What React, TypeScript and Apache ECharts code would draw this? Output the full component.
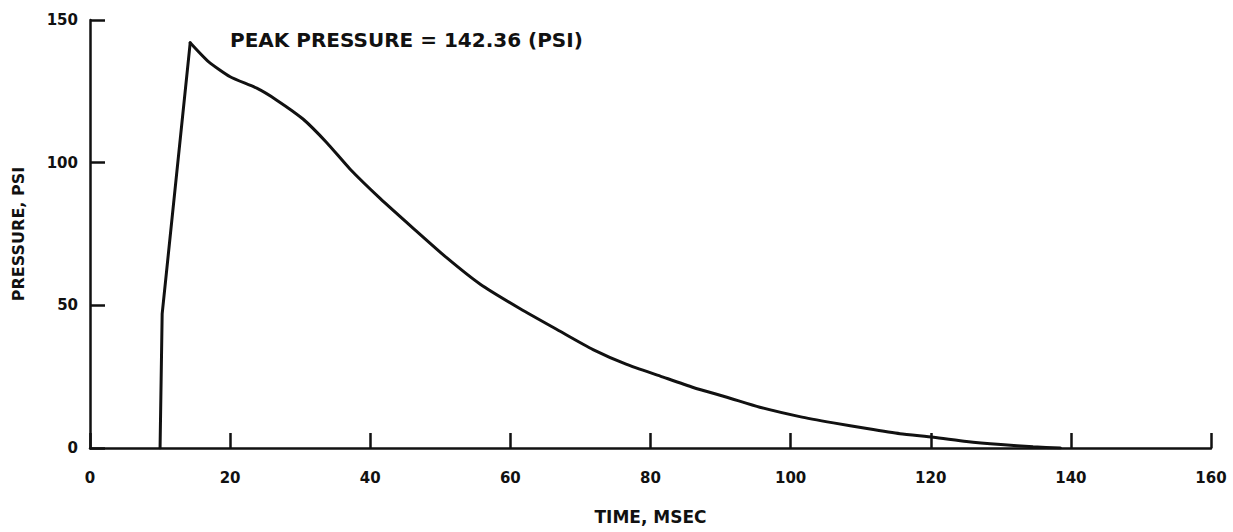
import React, { useEffect, useRef } from "react";
import * as echarts from "echarts";

const timeMs = [10.0, 10.3, 14.3, 16.9, 20.0, 23.8, 26.6, 30.4, 33.8, 37.1, 41.4, 46.1, 50.9, 55.7, 61.4, 67.1, 71.8, 76.6, 81.4, 86.1, 90.9, 95.6, 101.3, 106.1, 110.9, 115.6, 120.4, 125.1, 130.0, 134.6, 138.5];
const pressurePsi = [0, 47, 142, 135.4, 130.1, 126.1, 122.0, 115.3, 107.0, 97.8, 87.5, 77.1, 66.7, 57.4, 48.8, 40.9, 34.5, 29.3, 25.2, 21.2, 17.8, 14.3, 11.0, 8.8, 6.8, 5.0, 3.8, 2.3, 1.2, 0.4, 0];
const peakIndex = 2;
const xTicks = { min: 0, max: 160, interval: 20 };
const yTicks = { min: 0, max: 150, interval: 50 };
const annotation = "PEAK PRESSURE = 142.36 (PSI)";
const xName = "TIME, MSEC";
const yName = "PRESSURE, PSI";

const FONT = "'DejaVu Sans', 'Liberation Sans', sans-serif";
const INK = "#111111";

export default function App() {
  const ref = useRef<HTMLDivElement>(null);
  useEffect(() => {
    if (!ref.current) return;
    const chart = echarts.init(ref.current, undefined, { renderer: "svg" });
    const data = timeMs.map((t, i) => [t, pressurePsi[i]]);
    const rise = data.slice(0, peakIndex + 1);
    const decay = data.slice(peakIndex);
    const axisCommon = {
      axisLine: { show: true, lineStyle: { color: INK, width: 2.5 } },
      axisTick: { show: true, inside: true, length: 15, lineStyle: { color: INK, width: 2.5 } },
      splitLine: { show: false },
      nameLocation: "middle" as const,
    };
    const lineStyle = { color: INK, width: 3, join: "round" as const, cap: "round" as const };
    chart.setOption({
      animation: false,
      backgroundColor: "#ffffff",
      grid: { left: 90, right: 22, top: 20, bottom: 84 },
      xAxis: {
        type: "value",
        ...xTicks,
        ...axisCommon,
        name: xName,
        nameGap: 60,
        nameTextStyle: { fontFamily: FONT, fontWeight: "bold", fontSize: 17, color: INK, verticalAlign: "top" },
        axisLabel: { margin: 22, fontFamily: FONT, fontWeight: "bold", fontSize: 15, color: INK },
      },
      yAxis: {
        type: "value",
        ...yTicks,
        ...axisCommon,
        name: yName,
        nameGap: 64,
        nameTextStyle: { fontFamily: FONT, fontWeight: "bold", fontSize: 16, color: INK },
        axisLabel: { margin: 12, fontFamily: FONT, fontWeight: "bold", fontSize: 15, color: INK },
      },
      graphic: [
        {
          type: "text",
          left: 230,
          top: 30,
          style: { text: annotation, fontFamily: FONT, fontWeight: "bold", fontSize: 20, fill: INK },
        },
      ],
      series: [
        {
          type: "line",
          data: rise,
          showSymbol: false,
          symbol: "none",
          smooth: false,
          lineStyle,
        },
        {
          type: "line",
          data: decay,
          showSymbol: false,
          symbol: "none",
          smooth: 0.2,
          lineStyle,
        },
      ],
    });
    return () => chart.dispose();
  }, []);
  return (
    <div
      ref={ref}
      style={{ position: "fixed", left: 0, top: 0, width: 1233, height: 532 }}
    />
  );
}
